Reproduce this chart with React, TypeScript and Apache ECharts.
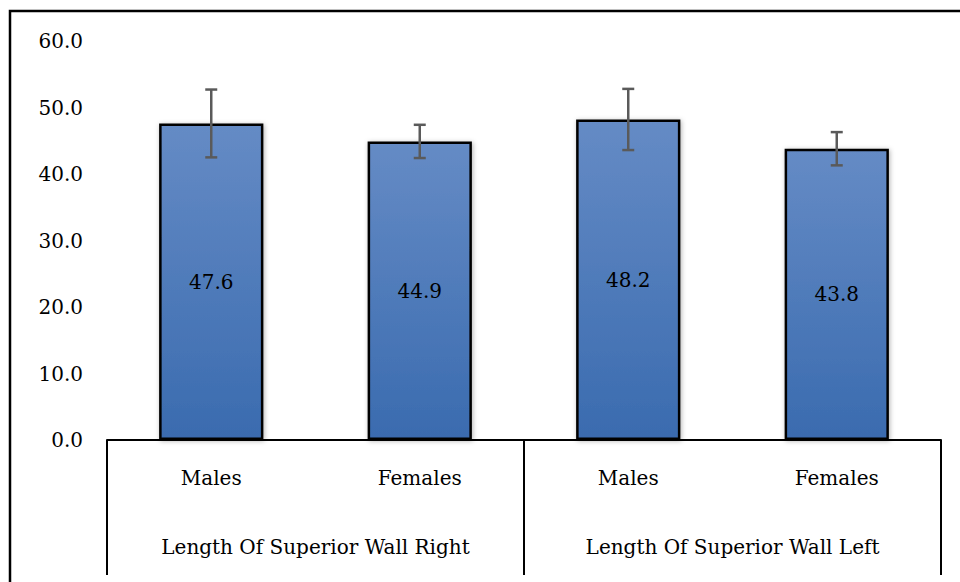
import React, { useEffect, useRef } from "react";
import * as echarts from "echarts";

const categories = ["Males", "Females", "Males", "Females"];
const groups = ["Length Of Superior Wall Right", "Length Of Superior Wall Left"];
const means = [47.6, 44.9, 48.2, 43.8];
const errors = [5.1, 2.5, 4.6, 2.5];

const FONT = "DejaVu Serif";

export default function App() {
  const ref = useRef<HTMLDivElement>(null);
  useEffect(() => {
    if (!ref.current) return;
    const chart = echarts.init(ref.current, undefined, { renderer: "svg" });
    const errData = means.map((m, i) => [i, m - errors[i], m + errors[i]]);
    chart.setOption({
      animation: false,
      backgroundColor: "#ffffff",
      grid: { left: 107, right: 19, top: 41, bottom: 142 },
      xAxis: [
        {
          type: "category",
          data: categories,
          position: "bottom",
          axisLine: { show: false },
          axisTick: { show: false },
          axisLabel: { color: "#000", fontFamily: FONT, fontSize: 20, margin: 28 },
        },
        {
          type: "category",
          data: groups,
          position: "bottom",
          axisLine: { show: true, lineStyle: { color: "#000", width: 2 } },
          axisTick: { show: true, length: 135, lineStyle: { color: "#000", width: 2 } },
          axisLabel: { color: "#000", fontFamily: FONT, fontSize: 20, margin: 97 },
        },
      ],
      yAxis: {
        type: "value",
        min: 0,
        max: 60,
        interval: 10,
        axisLine: { show: false },
        axisTick: { show: false },
        splitLine: { show: false },
        axisLabel: {
          color: "#000",
          fontFamily: FONT,
          fontSize: 20,
          margin: 24,
          formatter: (v: number) => v.toFixed(1),
        },
      },
      series: [
        {
          type: "bar",
          data: means,
          xAxisIndex: 0,
          barWidth: "50%",
          itemStyle: {
            color: new echarts.graphic.LinearGradient(0, 0, 0, 1, [
              { offset: 0, color: "#658BC5" },
              { offset: 1, color: "#3A6BAF" },
            ]),
            borderColor: "#000",
            borderWidth: 2.5,
            shadowBlur: 5,
            shadowColor: "rgba(0,0,0,0.3)",
            shadowOffsetX: 1,
            shadowOffsetY: 1,
          },
          label: {
            show: true,
            position: "inside",
            color: "#000",
            fontFamily: FONT,
            fontSize: 20,
            formatter: (p: any) => p.value.toFixed(1),
          },
        },
        {
          type: "custom",
          xAxisIndex: 0,
          data: errData,
          z: 10,
          renderItem: (params: any, api: any) => {
            const x = api.value(0);
            const lo = api.coord([x, api.value(1)]);
            const hi = api.coord([x, api.value(2)]);
            const half = 6;
            const style = { stroke: "#5a5a5a", lineWidth: 2.5 };
            return {
              type: "group",
              children: [
                { type: "line", shape: { x1: hi[0], y1: hi[1], x2: lo[0], y2: lo[1] }, style },
                { type: "line", shape: { x1: hi[0] - half, y1: hi[1], x2: hi[0] + half, y2: hi[1] }, style },
                { type: "line", shape: { x1: lo[0] - half, y1: lo[1], x2: lo[0] + half, y2: lo[1] }, style },
              ],
            };
          },
        },
      ],
      graphic: [
        {
          type: "rect",
          shape: { x: 10, y: 11, width: 1000, height: 700 },
          style: { fill: "none", stroke: "#000", lineWidth: 2.5 },
          silent: true,
        },
      ],
    });
    return () => chart.dispose();
  }, []);
  return (
    <div
      ref={ref}
      style={{ position: "fixed", left: 0, top: 0, width: 960, height: 582 }}
    />
  );
}
